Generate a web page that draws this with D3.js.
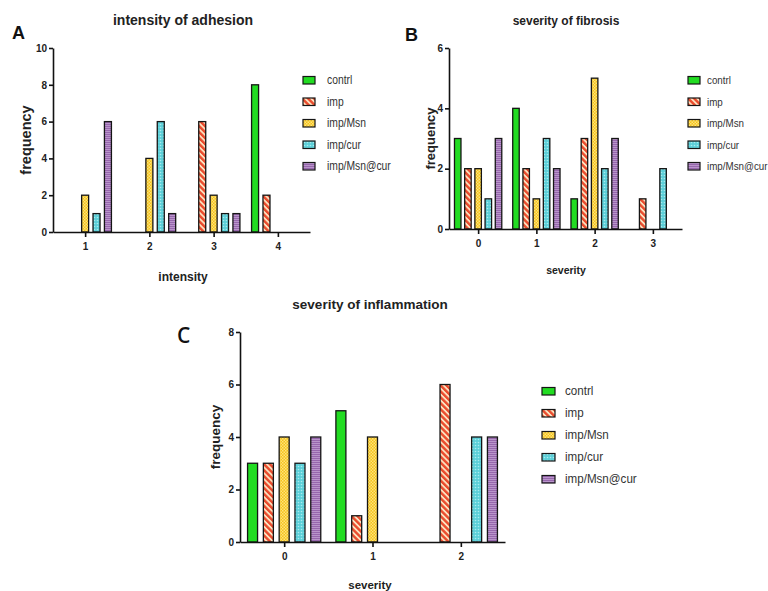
<!DOCTYPE html>
<html lang="en">
<head>
  <meta charset="UTF-8">
  <title>adhesion / fibrosis / inflammation</title>
  <script src="https://d3js.org/d3.v7.min.js"></script>
  <style>
    body { margin: 0; background: #fff; }
    .axis path, .axis line { stroke: #111; stroke-width: 1.6px; }
    .axis text { font: bold 10px "Liberation Sans", Arial, sans-serif; fill: #222; }
    .lbl { font-family: "Liberation Sans", Arial, sans-serif; font-weight: bold; fill: #222; }
    .ttl { font-family: "Liberation Sans", Arial, sans-serif; font-weight: bold; fill: #222; }
    .leg { font-family: "Liberation Sans", Arial, sans-serif; fill: #333; }
  </style>
</head>
<body>
  <svg id="fig" width="768" height="591"></svg>
  <script>
    // series (same order in every panel)
    const groups = ["contrl", "imp", "imp/Msn", "imp/cur", "imp/Msn@cur"];

    // A - intensity of adhesion
    const adhesionCats = ["1", "2", "3", "4"];
    const adhesionValues = [
      [0, 0, 0, 8],   // contrl
      [0, 0, 6, 2],   // imp
      [2, 4, 2, 0],   // imp/Msn
      [1, 6, 1, 0],   // imp/cur
      [6, 1, 1, 0]    // imp/Msn@cur
    ];
    const adhesionTicks = [0, 2, 4, 6, 8, 10];

    // B - severity of fibrosis
    const fibrosisCats = ["0", "1", "2", "3"];
    const fibrosisValues = [
      [3, 4, 1, 0],
      [2, 2, 3, 1],
      [2, 1, 5, 0],
      [1, 3, 2, 2],
      [3, 2, 3, 0]
    ];
    const fibrosisTicks = [0, 2, 4, 6];

    // C - severity of inflammation
    const inflammationCats = ["0", "1", "2"];
    const inflammationValues = [
      [3, 5, 0],
      [3, 1, 6],
      [4, 4, 0],
      [3, 0, 4],
      [4, 0, 4]
    ];
    const inflammationTicks = [0, 2, 4, 6, 8];

    const svg = d3.select("#fig");

    // fills: solid green, stripes, checker, dots, fine lines
    const defs = svg.append("defs");

    let p = defs.append("pattern").attr("id", "f1")
      .attr("width", 4.2).attr("height", 4.2)
      .attr("patternUnits", "userSpaceOnUse")
      .attr("patternTransform", "rotate(-45)");
    p.append("rect").attr("width", 4.2).attr("height", 4.2).attr("fill", "#fbe2c0");
    p.append("rect").attr("width", 2.4).attr("height", 4.2).attr("fill", "#ea4a2c");

    p = defs.append("pattern").attr("id", "f2")
      .attr("width", 3).attr("height", 3).attr("patternUnits", "userSpaceOnUse");
    p.append("rect").attr("width", 3).attr("height", 3).attr("fill", "#f6c21c");
    p.append("rect").attr("width", 1.5).attr("height", 1.5).attr("fill", "#fde47a");
    p.append("rect").attr("x", 1.5).attr("y", 1.5).attr("width", 1.5).attr("height", 1.5).attr("fill", "#fde47a");

    p = defs.append("pattern").attr("id", "f3")
      .attr("width", 3).attr("height", 3).attr("patternUnits", "userSpaceOnUse");
    p.append("rect").attr("width", 3).attr("height", 3).attr("fill", "#5ccfd8");
    p.append("circle").attr("cx", 1.5).attr("cy", 1.5).attr("r", 0.8).attr("fill", "#a9ecef");

    p = defs.append("pattern").attr("id", "f4")
      .attr("width", 3).attr("height", 2).attr("patternUnits", "userSpaceOnUse");
    p.append("rect").attr("width", 3).attr("height", 2).attr("fill", "#9767ad");
    p.append("rect").attr("y", 1).attr("width", 3).attr("height", 1).attr("fill", "#b995cb");

    const fills = ["#22dc22", "url(#f1)", "url(#f2)", "url(#f3)", "url(#f4)"];

    function panel(o) {
      const g = svg.append("g");

      const x = d3.scalePoint().domain(o.cats).range([o.x0, o.x1]).padding(0.5);
      const inner = d3.scalePoint().domain(groups).range([-2 * o.step, 2 * o.step]);
      const y = d3.scaleLinear().domain([0, o.yMax]).range([o.y0, o.y1]);

      o.values.forEach((vals, si) => {
        g.append("g").selectAll("rect")
          .data(vals.map((v, ci) => ({ v: v, c: o.cats[ci] })).filter(d => d.v > 0))
          .join("rect")
            .attr("x", d => x(d.c) + inner(groups[si]) - o.bw / 2)
            .attr("y", d => y(d.v))
            .attr("width", o.bw)
            .attr("height", d => y(0) - y(d.v))
            .attr("fill", fills[si])
            .attr("stroke", "#151515")
            .attr("stroke-width", 1.3);
      });

      g.append("g").attr("class", "axis")
        .attr("transform", `translate(0,${o.y0})`)
        .call(d3.axisBottom(x).tickSize(5).tickSizeOuter(0).tickPadding(6));

      g.append("g").attr("class", "axis")
        .attr("transform", `translate(${o.x0},0)`)
        .call(d3.axisLeft(y).tickValues(o.ticks).tickFormat(d3.format("d"))
          .tickSize(4).tickSizeOuter(0).tickPadding(2));

      g.append("text").attr("class", "ttl")
        .attr("x", o.tx).attr("y", o.ty).attr("text-anchor", "middle")
        .style("font-size", o.tSize + "px")
        .text(o.title);

      g.append("text").attr("class", "lbl")
        .attr("x", o.tx).attr("y", o.xly).attr("text-anchor", "middle")
        .style("font-size", o.xlSize + "px")
        .text(o.xlabel);

      g.append("text").attr("class", "lbl")
        .attr("transform", `translate(${o.yl},${(o.y0 + o.y1) / 2}) rotate(-90)`)
        .attr("text-anchor", "middle")
        .style("font-size", o.ylSize + "px")
        .text("frequency");

      g.append("text")
        .attr("x", o.lx).attr("y", o.ly)
        .style("font", o.lfont)
        .attr("fill", "#111")
        .text(o.letter);

      // legend text is narrow in the original, squeeze it a bit
      const leg = g.append("g");
      groups.forEach((s, i) => {
        const ry = o.legY + i * o.legGap;
        leg.append("rect")
          .attr("x", o.legX).attr("y", ry - 3.5)
          .attr("width", o.legW).attr("height", 7.5)
          .attr("fill", fills[i])
          .attr("stroke", "#151515").attr("stroke-width", 1.2);
        leg.append("text").attr("class", "leg")
          .attr("transform", `translate(${o.legX + o.legW + o.legPad},${ry + 4}) scale(0.86,1)`)
          .style("font-size", o.legSize + "px")
          .text(s);
      });
    }

    panel({
      cats: adhesionCats, values: adhesionValues, ticks: adhesionTicks, yMax: 10,
      x0: 53, x1: 310, y0: 232, y1: 48, step: 11.4, bw: 7,
      title: "intensity of adhesion", tx: 183, ty: 25, tSize: 14,
      xlabel: "intensity", xly: 281, xlSize: 12, yl: 31, ylSize: 14.5,
      letter: "A", lx: 12, ly: 39, lfont: "bold 18px 'Liberation Sans', Arial, sans-serif",
      legX: 303, legY: 80, legW: 12, legGap: 21.5, legPad: 12, legSize: 12
    });

    panel({
      cats: fibrosisCats, values: fibrosisValues, ticks: fibrosisTicks, yMax: 6,
      x0: 449, x1: 682, y0: 229, y1: 48, step: 10.2, bw: 6.5,
      title: "severity of fibrosis", tx: 566, ty: 25, tSize: 12,
      xlabel: "severity", xly: 274, xlSize: 10.5, yl: 435, ylSize: 13,
      letter: "B", lx: 405, ly: 41, lfont: "bold 18px 'Liberation Sans', Arial, sans-serif",
      legX: 688, legY: 80, legW: 12, legGap: 21.5, legPad: 7, legSize: 11.4
    });

    panel({
      cats: inflammationCats, values: inflammationValues, ticks: inflammationTicks, yMax: 8,
      x0: 240, x1: 505, y0: 542, y1: 332, step: 15.8, bw: 10,
      title: "severity of inflammation", tx: 370, ty: 309, tSize: 13.5,
      xlabel: "severity", xly: 589, xlSize: 11.5, yl: 220, ylSize: 13.5,
      letter: "C", lx: 177, ly: 343, lfont: "600 21px 'Open Sans', Arial, sans-serif",
      legX: 542, legY: 391, legW: 13, legGap: 22, legPad: 10, legSize: 13.5
    });
  </script>
</body>
</html>
